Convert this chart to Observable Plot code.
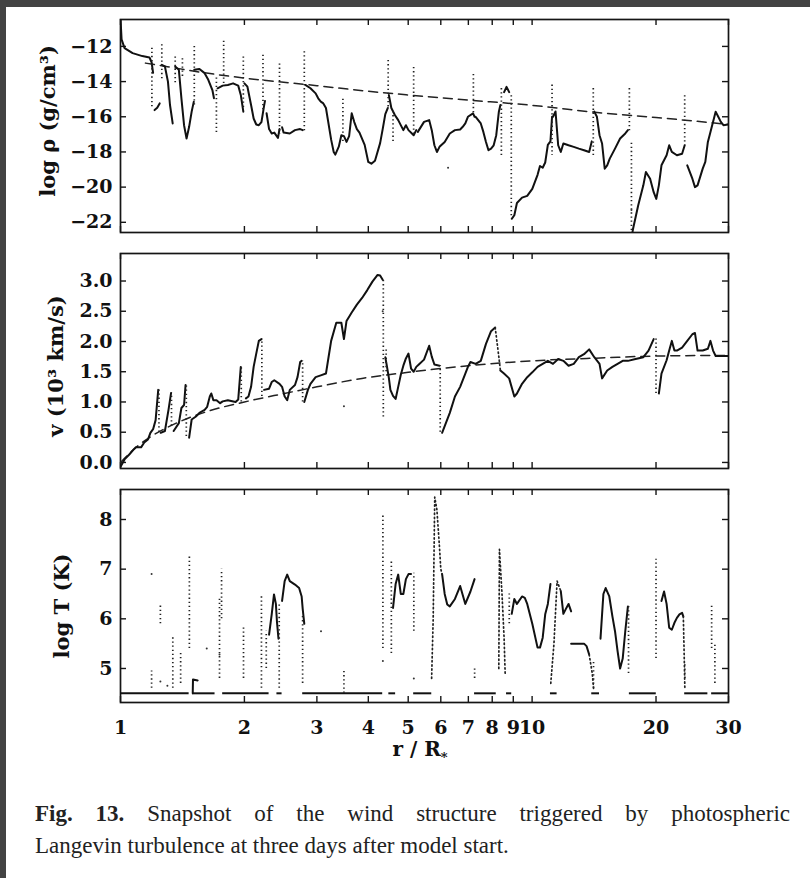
<!DOCTYPE html>
<html><head><meta charset="utf-8">
<script src="https://cdn.jsdelivr.net/npm/d3@7"></script>
<script src="https://cdn.jsdelivr.net/npm/@observablehq/plot@0.6"></script>
<style>
html,body{margin:0;padding:0;background:#fff;}
body{width:810px;height:878px;position:relative;overflow:hidden;}
.bar{position:absolute;background:#434343;z-index:5;}
.panel{position:absolute;left:0;}
#xlabel{position:absolute;left:360px;width:120px;top:737px;text-align:center;font-family:"DejaVu Serif",serif;font-weight:bold;font-size:20px;color:#111;}
#xlabel sub{font-size:13px;vertical-align:-6px;}
#caption{position:absolute;left:35px;top:798px;width:755px;font-family:"Liberation Serif","Times New Roman",serif;font-size:23px;line-height:32px;color:#222;}
#caption .l1{text-align:justify;text-align-last:justify;white-space:nowrap;}
#caption .l2{text-align:left;}
</style></head>
<body>
<div class="bar" style="left:0;top:0;width:810px;height:7px"></div>
<div class="bar" style="left:0;top:0;width:6px;height:878px"></div>
<div id="p1" class="panel" style="top:0"></div>
<div id="p2" class="panel" style="top:242px"></div>
<div id="p3" class="panel" style="top:478px"></div>
<div id="xlabel">r / R<sub>*</sub></div>
<div id="caption"><div class="l1"><b>Fig. 13.</b> Snapshot of the wind structure triggered by photospheric</div><div class="l2">Langevin turbulence at three days after model start.</div></div>
<script>
// ---------- axes ----------
const xTicks = [1,2,3,4,5,6,7,8,9,10,20,30];
const rhoTicks = [-22,-20,-18,-16,-14,-12];
const vTicks = [0,0.5,1,1.5,2,2.5,3];
const tTicks = [5,6,7,8];
const rhoLabel = "log ρ (g/cm³)";
const vLabel = "v (10³ km/s)";
const tLabel = "log T (K)";

// ---------- panel 1: log rho ----------
const rhoSegments = [
 [[1.0,-10.4],[1.006,-11.6],[1.023,-12.1],[1.07,-12.38],[1.13,-12.55],[1.176,-12.63],[1.19,-12.9],[1.2,-13.5]],
 [[1.21,-15.62],[1.228,-15.49],[1.245,-15.24]],
 [[1.26,-13.05],[1.282,-13.14],[1.304,-14.0],[1.319,-15.33],[1.339,-16.38]],
 [[1.358,-13.14],[1.386,-13.33],[1.406,-14.95],[1.427,-16.48],[1.447,-17.24],[1.468,-16.57],[1.489,-15.71],[1.507,-15.14]],
 [[1.511,-13.33],[1.555,-13.28],[1.601,-13.52],[1.634,-13.9],[1.672,-14.48],[1.687,-14.95]],
 [[1.721,-14.38],[1.771,-14.23],[1.823,-14.19],[1.877,-14.1],[1.932,-14.23],[1.96,-14.76],[1.988,-15.71]],
 [[2.0,-14.1],[2.034,-14.29],[2.076,-15.33],[2.106,-16.1],[2.137,-16.44],[2.168,-16.48],[2.2,-16.3],[2.232,-15.4],[2.244,-15.1]],
 [[2.264,-15.8],[2.296,-16.7],[2.33,-16.95],[2.364,-16.9],[2.413,-17.2],[2.434,-16.7]],
 [[2.469,-16.6],[2.491,-16.9],[2.578,-16.95],[2.654,-16.76],[2.732,-16.7],[2.771,-16.76]],
 [[2.812,-14.19],[2.894,-14.38],[2.979,-14.67],[3.022,-14.95],[3.066,-15.14],[3.11,-15.24],[3.156,-15.5],[3.249,-17.3],[3.296,-18.0],[3.325,-18.15],[3.391,-17.7],[3.44,-17.05],[3.49,-17.1],[3.541,-17.43],[3.593,-17.1],[3.645,-15.8],[3.698,-16.3],[3.752,-16.7],[3.807,-16.9],[3.919,-17.6],[3.999,-18.57],[4.069,-18.67],[4.152,-18.5],[4.273,-17.5],[4.335,-16.7],[4.399,-15.85],[4.462,-15.5]],
 [[4.487,-14.76],[4.55,-15.5],[4.64,-15.9],[4.728,-16.19],[4.866,-16.76],[4.936,-16.48],[5.008,-16.76],[5.155,-17.05],[5.231,-16.76]],
 [[5.276,-16.86],[5.463,-16.29],[5.622,-16.19],[5.704,-16.76],[5.789,-17.62],[5.872,-18.0],[5.957,-17.71],[6.132,-17.43],[6.31,-16.95],[6.494,-16.76],[6.686,-16.72],[6.784,-16.57],[6.882,-16.38],[6.983,-16.0],[7.187,-15.81],[7.248,-16.0]],
 [[7.291,-16.0],[7.504,-16.38],[7.613,-16.86],[7.725,-17.43],[7.834,-17.9],[7.948,-17.81],[8.066,-17.62],[8.182,-17.05],[8.303,-15.71],[8.374,-15.33]],
 [[8.55,-14.6],[8.667,-14.3],[8.795,-14.6]],
 [[8.922,-21.8],[9.053,-21.6],[9.186,-20.9],[9.452,-20.6],[9.73,-20.5],[10.01,-20.1],[10.31,-19.3],[10.45,-18.8],[10.61,-18.9],[10.76,-18.6],[10.92,-17.6],[11.08,-17.4],[11.18,-16.0]],
 [[11.24,-16.0],[11.4,-15.7],[11.57,-17.62],[11.74,-18.0],[11.91,-17.52],[12.26,-17.62],[12.62,-17.71],[12.99,-17.81],[13.37,-17.9],[13.76,-18.0],[13.96,-17.4]],
 [[14.16,-15.71],[14.37,-16.0],[14.58,-17.05],[14.79,-17.52],[15.01,-18.95],[15.22,-18.76],[15.44,-18.38],[15.9,-17.81],[16.36,-17.24],[16.84,-16.95],[17.09,-16.76]],
 [[17.4,-23.0],[17.58,-22.4],[18.1,-21.05],[18.63,-19.9],[18.9,-19.14],[19.35,-19.52],[19.74,-20.29],[20.03,-20.67],[20.32,-19.9],[20.62,-18.76],[21.22,-18.19],[21.53,-17.62],[21.85,-18.0],[22.48,-18.19],[23.14,-18.1],[23.48,-17.62]],
 [[23.82,-18.76],[24.51,-19.52],[24.87,-20.0],[25.23,-19.9],[25.97,-18.95],[26.35,-18.57],[26.73,-17.43],[27.12,-16.86],[27.52,-16.29],[27.92,-15.71],[28.33,-16.0],[28.74,-16.29],[29.16,-16.48],[30.0,-16.44]]
];
const rhoJumps = [[1.192,-12.1,-15.5],[1.26,-11.9,-14.0],[1.358,-12.6,-14.2],[1.414,-12.7,-13.8],[1.511,-12.0,-15.5],[1.71,-13.8,-16.9],[1.781,-11.7,-14.2],[1.988,-12.6,-15.5],[2.219,-12.5,-15.6],[2.434,-13.0,-17.0],[2.796,-12.3,-16.8],[3.47,-15.0,-17.4],[4.47,-12.8,-15.5],[4.593,-15.7,-17.4],[5.155,-13.2,-17.1],[7.2,-13.6,-15.8],[8.42,-14.4,-18.2],[8.9,-14.8,-21.7],[11.18,-14.2,-18.2],[14.08,-14.4,-18.3],[17.23,-14.4,-16.8],[17.43,-17.5,-22.5],[23.48,-14.8,-17.6]];
const rhoDots = [[6.25,-18.9],[17.43,-21.3]];
const rhoStationary = [[1.15,-12.95],[1.3,-13.15],[1.5,-13.4],[2,-13.8],[3,-14.23],[4,-14.55],[5,-14.76],[7,-15.05],[10,-15.35],[15,-15.8],[20,-16.04],[30,-16.44]];

// ---------- panel 2: v ----------
const vSegments = [
 [[1.0,-0.07],[1.023,0.05],[1.053,0.14],[1.078,0.22],[1.09,0.25],[1.122,0.25],[1.142,0.33],[1.166,0.38],[1.182,0.49],[1.2,0.55],[1.217,0.7],[1.235,1.2]],
 [[1.252,0.49],[1.282,0.52],[1.308,0.87],[1.327,1.15]],
 [[1.346,0.52],[1.386,0.65],[1.406,0.9],[1.427,0.95],[1.439,1.28]],
 [[1.468,0.41],[1.489,0.71],[1.525,0.76],[1.555,0.82],[1.601,0.87],[1.624,0.92],[1.648,1.09],[1.662,1.14],[1.681,1.03],[1.711,1.03],[1.746,0.98],[1.771,1.01],[1.823,1.03],[1.904,1.0],[1.932,1.04],[1.96,1.58]],
 [[2.017,1.06],[2.046,1.09],[2.076,1.25],[2.106,1.58],[2.137,1.8],[2.168,2.01],[2.2,2.04]],
 [[2.232,1.2],[2.296,1.22],[2.33,1.33],[2.364,1.36],[2.434,1.3],[2.469,1.25],[2.505,1.09],[2.541,1.03],[2.578,1.2],[2.654,1.28],[2.692,1.41],[2.732,1.66],[2.755,1.68]],
 [[2.796,1.0],[2.853,1.2],[2.894,1.3],[2.979,1.41],[3.066,1.44],[3.156,1.47],[3.202,1.74],[3.249,2.01],[3.344,2.31],[3.44,2.31],[3.49,2.04],[3.541,2.34],[3.645,2.48],[3.752,2.61],[3.863,2.72],[3.977,2.85],[4.093,2.99],[4.213,3.1],[4.273,3.09],[4.335,3.02]],
 [[4.399,1.74],[4.436,1.6],[4.487,1.4],[4.526,1.2],[4.593,1.1],[4.66,1.05],[4.728,1.25],[4.797,1.45],[4.866,1.6],[4.936,1.72],[5.008,1.8],[5.082,1.55],[5.155,1.5],[5.231,1.58],[5.306,1.62],[5.463,1.7],[5.622,1.93],[5.704,1.75],[5.789,1.62],[5.957,1.6]],
 [[6.044,0.49],[6.31,0.82],[6.494,1.09],[6.686,1.25],[6.882,1.47],[6.983,1.58],[7.083,1.66],[7.291,1.63],[7.504,1.68],[7.725,1.96],[7.948,2.17],[8.134,2.23]],
 [[8.374,1.52],[8.545,1.47],[8.795,1.39],[9.053,1.09],[9.186,1.14],[9.452,1.3],[9.73,1.41],[10.01,1.49],[10.31,1.58],[10.61,1.63],[10.92,1.68],[11.24,1.63],[11.57,1.71],[11.91,1.68],[12.26,1.6],[12.62,1.63],[12.99,1.74],[13.37,1.79],[13.76,1.87],[14.16,1.74],[14.58,1.63],[14.79,1.39],[15.22,1.52],[15.67,1.58],[16.13,1.63],[16.6,1.68],[17.09,1.68],[17.84,1.71],[18.63,1.74],[19.18,1.85],[19.74,2.04]],
 [[20.32,1.14],[20.62,1.47],[21.22,1.69],[21.53,1.85],[21.85,2.01],[22.17,1.85],[22.48,1.85],[23.14,1.9],[23.82,2.01],[24.51,2.12],[24.87,2.14],[25.23,1.85],[25.97,1.85],[26.73,1.88],[27.12,2.01],[27.52,1.85],[27.92,1.76],[28.33,1.76],[30.0,1.76]]
];
const vJumps = [[1.24,0.5,1.2],[1.33,0.6,1.15],[1.445,0.43,1.28],[1.965,1.0,1.58],[2.205,1.09,2.04],[2.77,1.0,1.68],[4.35,0.75,3.05],[4.42,1.5,1.9],[5.98,0.5,1.6],[20.0,1.14,2.04]];
const vDotted = [[[8.134,2.23],[8.3,1.75],[8.374,1.52]]];
const vDots = [[3.49,0.93],[4.335,2.5]];
const vStationary = [[1.0,0.0],[1.1,0.27],[1.2,0.45],[1.366,0.65],[1.62,0.84],[2.0,1.0],[2.5,1.14],[3,1.25],[3.86,1.39],[5,1.49],[7,1.6],[10,1.68],[15,1.73],[20,1.76],[30,1.77]];

// ---------- panel 3: log T ----------
const tFloorValue = 4.5;
const tFloor = [[1.0,1.468],[1.498,1.697],[1.771,2.296],[2.399,2.469],[2.771,4.335],[4.487,4.66],[5.155,5.704],[7.248,8.182],[8.667,8.922],[11.08,11.5],[13.96,14.58],[17.23,20.03],[23.48,26.73],[27.3,30.0]];
const tSegments = [
 [[1.498,4.5],[1.5,4.78],[1.54,4.76]],
 [[2.296,5.68],[2.33,6.09],[2.36,6.49],[2.385,6.3],[2.399,5.95],[2.42,5.6]],
 [[2.469,6.36],[2.505,6.76],[2.541,6.89],[2.578,6.76],[2.654,6.69],[2.716,6.62],[2.755,6.45],[2.771,6.2],[2.796,5.9]],
 [[4.593,6.22],[4.66,6.7],[4.728,6.89],[4.797,6.5],[4.866,6.5],[4.936,6.8],[5.008,6.9],[5.08,6.9]],
 [[6.044,6.9],[6.132,6.5],[6.22,6.29],[6.31,6.25],[6.494,6.4],[6.686,6.66],[6.882,6.3],[7.083,6.55],[7.248,6.8]],
 [[8.922,6.1],[9.053,6.4],[9.186,6.3],[9.452,6.45],[9.6,6.42],[9.73,6.3],[10.01,5.9],[10.31,5.42],[10.45,5.42],[10.61,5.62],[10.76,6.09],[10.92,6.3],[11.08,6.7]],
 [[11.74,6.56],[11.91,6.1],[12.08,6.2],[12.26,6.3],[12.44,6.15]],
 [[12.44,5.5],[12.99,5.5],[13.37,5.5],[13.56,5.45],[13.76,5.28]],
 [[14.66,5.6],[14.9,6.5],[15.09,6.62],[15.4,6.45],[15.67,6.05],[15.9,5.75],[16.13,5.35],[16.36,5.0],[16.6,5.2],[16.84,5.75],[17.09,6.25]],
 [[20.62,6.36],[20.92,6.55],[21.22,6.3],[21.53,5.82],[21.85,5.78],[22.17,5.92],[22.48,6.02],[22.8,6.09],[23.14,6.12],[23.3,6.05]]
];
const tJumps = [[1.19,4.6,4.95],[1.25,5.9,6.3],[1.34,4.6,5.65],[1.4,4.7,5.35],[1.47,5.4,7.3],[1.74,4.8,6.4],[1.76,6.0,7.0],[1.99,4.8,5.85],[2.2,4.6,6.49],[2.26,5.0,5.75],[2.43,4.6,6.3],[2.77,4.7,6.1],[3.49,4.5,4.95],[4.34,5.4,8.1],[4.55,5.3,7.15],[5.16,5.75,6.92],[7.25,4.8,5.0],[8.8,5.9,6.5],[14.1,4.6,5.15],[17.15,4.9,6.3],[20.0,5.2,7.2],[23.5,4.8,5.1],[27.3,5.4,6.3],[27.8,4.7,5.5]];
const tDotted = [
 [[5.7,4.8],[5.75,6.0],[5.8,8.45],[5.87,8.2],[5.95,7.5],[6.0,7.0],[6.044,6.9]],
 [[8.3,5.0],[8.33,7.4],[8.45,6.5],[8.55,5.6],[8.6,4.9]],
 [[11.1,4.7],[11.3,5.5],[11.5,6.76],[11.74,6.56]],
 [[23.3,6.05],[23.45,5.0],[23.5,4.6]],
 [[13.76,5.28],[14.0,4.9],[14.1,4.6]]
];
const tDots = [[1.19,6.9],[1.25,4.74],[1.3,4.65],[3.07,5.75],[5.16,4.8],[1.74,5.28],[4.34,5.15],[1.62,5.4]];

// ---------- helpers ----------
const toRows = segs => segs.flatMap((s, i) => s.map(([r, v]) => ({r, v, seg: i})));
const minus = d => d < 0 ? "\u2212" + Math.abs(d) : String(d);
const FRAME_W = 608;

function panel({segs, jumps, dotted = [], dots = [], dash = null, floor = null, yDomain, yTicks, yFmt, label, labelDx, labelDy, mt, frameH, mb, xLabels}) {
  const marks = [
    Plot.frame({stroke: "#151515", strokeWidth: 1.7}),
    Plot.tickX(xTicks, {x: d => d, insetTop: frameH - 6, stroke: "#151515", strokeWidth: 1.4}),
    Plot.tickX(xTicks, {x: d => d, insetBottom: frameH - 6, stroke: "#151515", strokeWidth: 1.4}),
    Plot.tickY(yTicks, {y: d => d, insetRight: FRAME_W - 6, stroke: "#151515", strokeWidth: 1.4}),
    Plot.tickY(yTicks, {y: d => d, insetLeft: FRAME_W - 6, stroke: "#151515", strokeWidth: 1.4})
  ];
  if (dash) marks.push(Plot.line(dash, {x: d => d[0], y: d => d[1], stroke: "#222", strokeWidth: 1.5, strokeDasharray: "9,6", curve: "monotone-x", clip: true}));
  if (floor) marks.push(Plot.ruleY(floor.segs, {x1: d => d[0], x2: d => d[1], y: () => floor.value, stroke: "#111", strokeWidth: 2}));
  marks.push(
    Plot.line(toRows(segs), {x: "r", y: "v", z: "seg", stroke: "#111", strokeWidth: 2, clip: true}),
    Plot.ruleX(jumps, {x: d => d[0], y1: d => d[1], y2: d => d[2], stroke: "#222", strokeWidth: 1.7, strokeDasharray: "1.3,2.8", clip: true}),
    Plot.line(toRows(dotted), {x: "r", y: "v", z: "seg", stroke: "#222", strokeWidth: 1.7, strokeDasharray: "1.3,2.8", clip: true}),
    Plot.dot(dots, {x: d => d[0], y: d => d[1], r: 1, fill: "#333", stroke: null}),
    Plot.text([label], {text: d => d, frameAnchor: "left", textAnchor: "middle", dx: labelDx, dy: labelDy, rotate: -90, fontSize: 21, fontWeight: "bold", fill: "#111"})
  );
  if (xLabels) marks.push(Plot.text(xTicks, {x: d => d, text: d => String(d), frameAnchor: "bottom", textAnchor: "middle", lineAnchor: "middle", dy: 25, fontSize: 19, fontWeight: "bold", fill: "#111"}));
  return Plot.plot({
    width: 810, height: mt + frameH + mb,
    marginLeft: 120, marginRight: 82, marginTop: mt, marginBottom: mb,
    x: {type: "log", domain: [1, 30], axis: null},
    y: {domain: yDomain, ticks: yTicks, tickFormat: yFmt, tickSize: 0, tickPadding: 8, label: null},
    style: {background: "transparent", fontFamily: "'DejaVu Serif', serif", fontWeight: "bold", fontSize: "19px", color: "#111", overflow: "visible"},
    marks
  });
}

document.getElementById("p1").append(panel({
  segs: rhoSegments, jumps: rhoJumps, dots: rhoDots, dash: rhoStationary,
  yDomain: [-22.58, -10.47], yTicks: rhoTicks, yFmt: minus, label: rhoLabel, labelDx: -72, labelDy: -5,
  mt: 19, frameH: 213, mb: 10, xLabels: false
}));
document.getElementById("p2").append(panel({
  segs: vSegments, jumps: vJumps, dotted: vDotted, dots: vDots, dash: vStationary,
  yDomain: [-0.1, 3.455], yTicks: vTicks, yFmt: d3.format(".1f"), label: vLabel, labelDx: -64, labelDy: 5,
  mt: 11, frameH: 215, mb: 10, xLabels: false
}));
document.getElementById("p3").append(panel({
  segs: tSegments, jumps: tJumps, dotted: tDotted, dots: tDots, floor: {segs: tFloor, value: tFloorValue},
  yDomain: [4.315, 8.604], yTicks: tTicks, yFmt: d => String(d), label: tLabel, labelDx: -58, labelDy: 10,
  mt: 11, frameH: 213, mb: 58, xLabels: true
}));
</script>
</body></html>
